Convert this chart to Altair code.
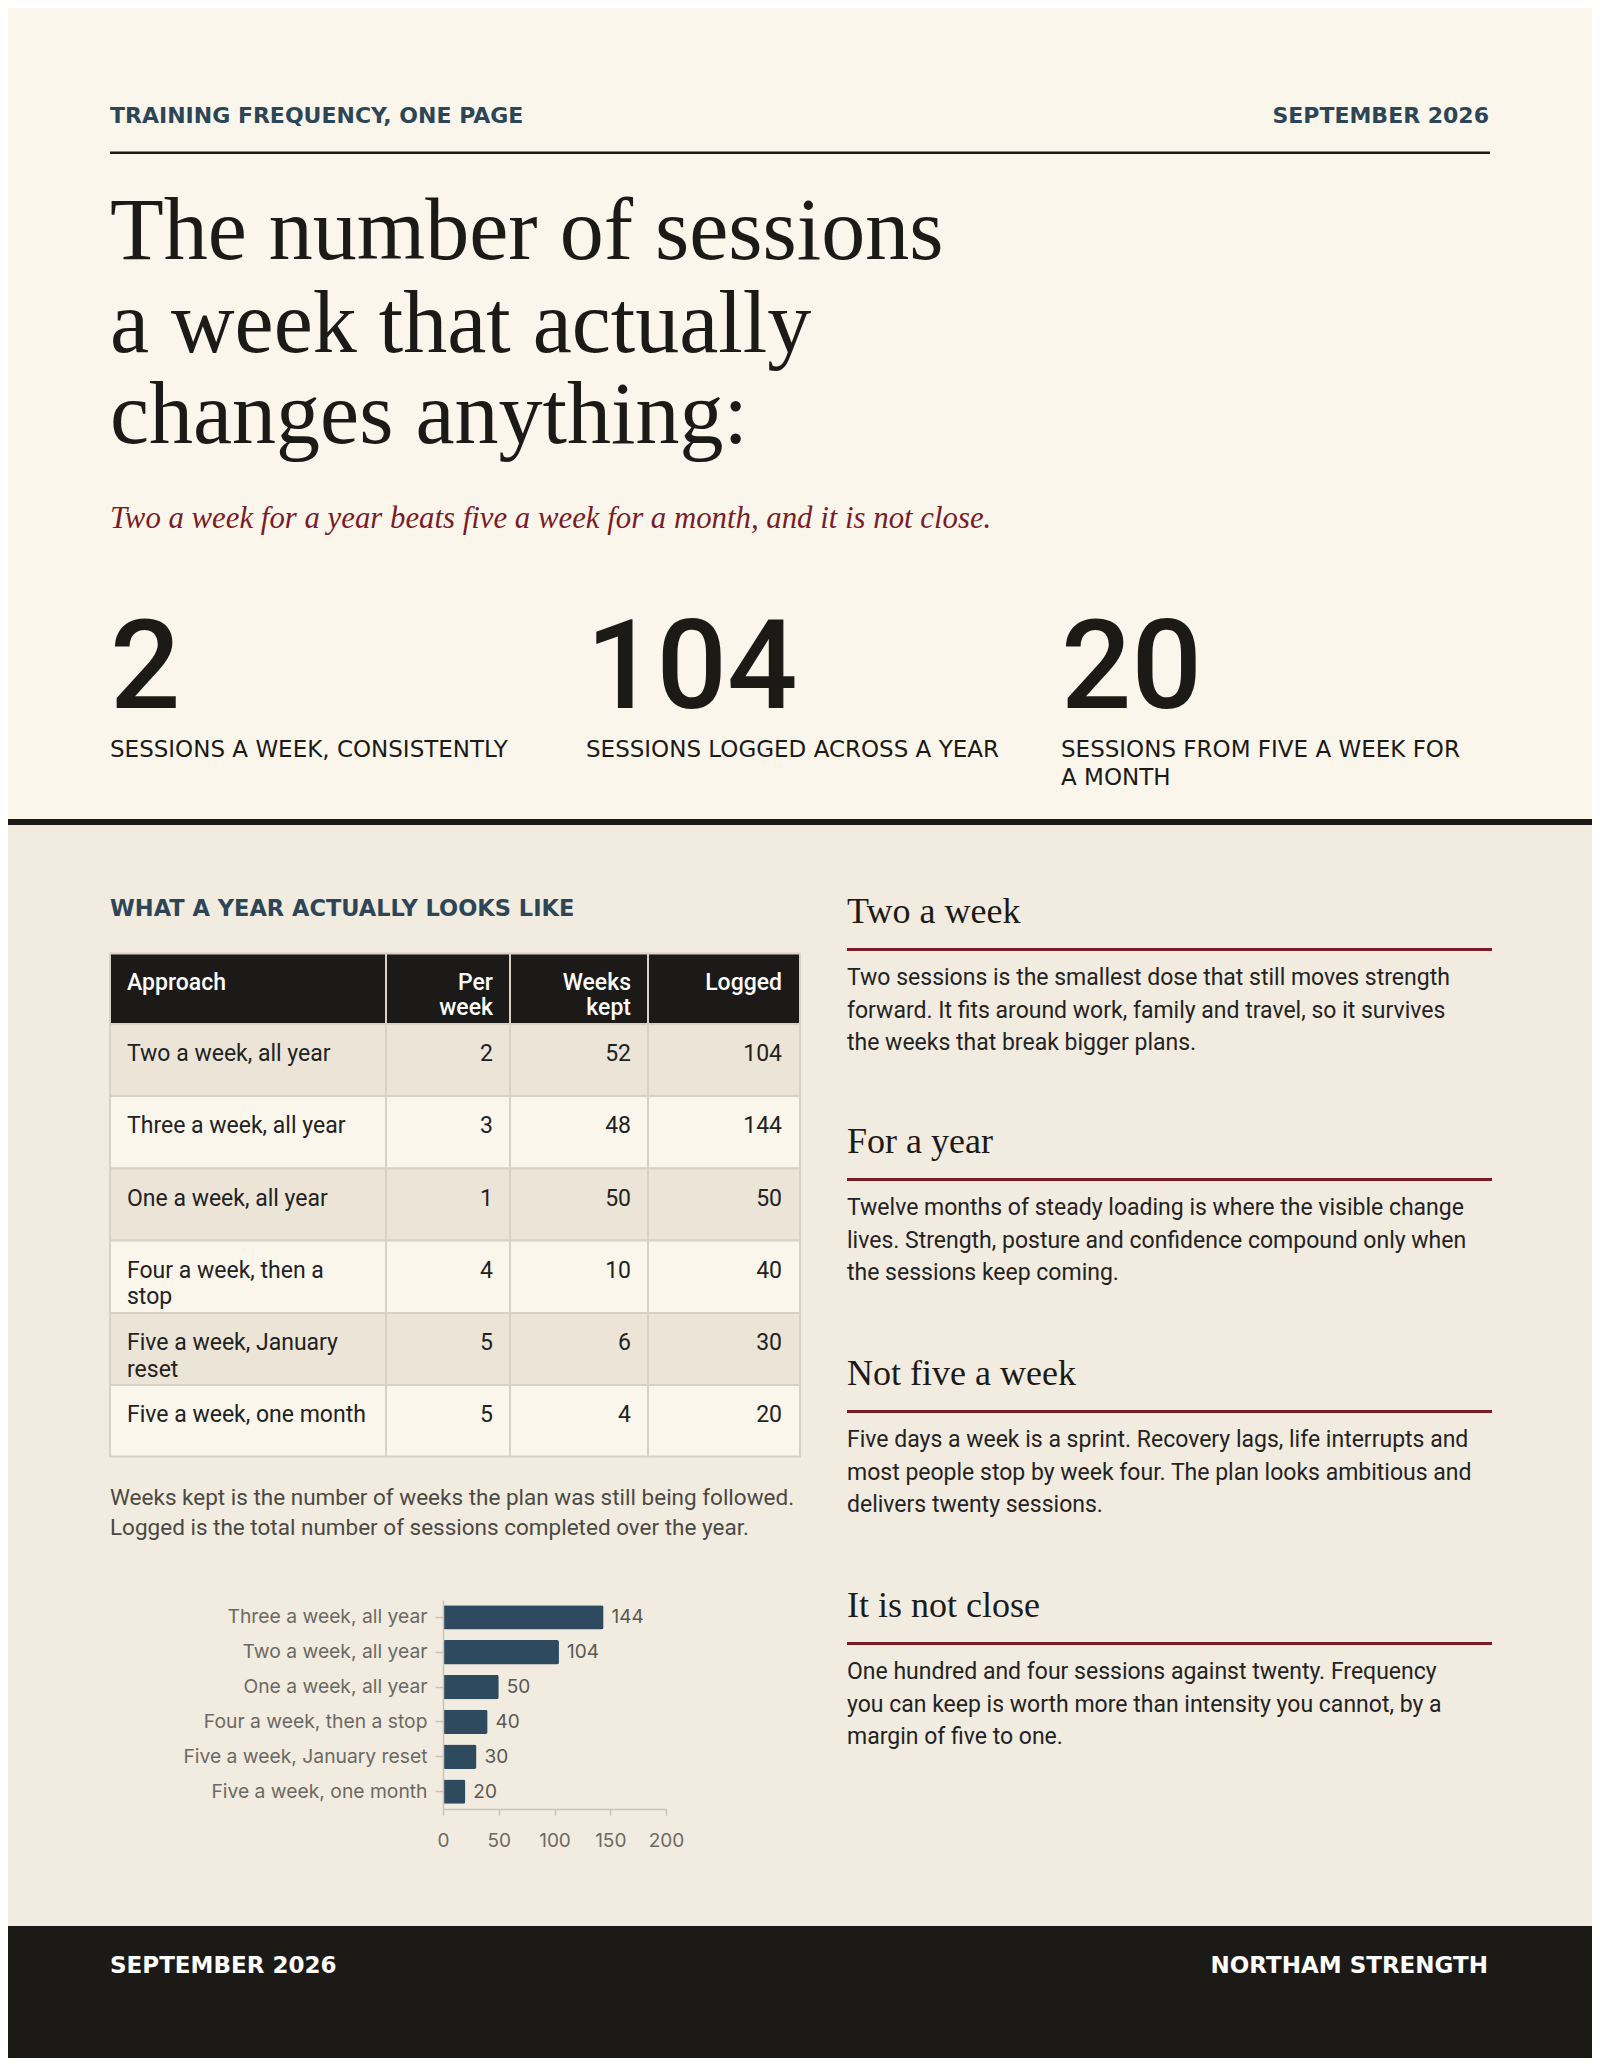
import altair as alt
import pandas as pd

# ---- data -------------------------------------------------------------
APPROACHES = [
    "Two a week, all year",
    "Three a week, all year",
    "One a week, all year",
    "Four a week, then a stop",
    "Five a week, January reset",
    "Five a week, one month",
]
# same rows, wrapped the way they wrap in the narrow table column
APPROACH_CELLS = [
    "Two a week, all year",
    "Three a week, all year",
    "One a week, all year",
    "Four a week, then a\nstop",
    "Five a week, January\nreset",
    "Five a week, one month",
]
PER_WEEK = [2, 3, 1, 4, 5, 5]
WEEKS_KEPT = [52, 48, 50, 10, 6, 4]
LOGGED = [104, 144, 50, 40, 30, 20]
TABLE_HEADERS = ["Approach", "Per\nweek", "Weeks\nkept", "Logged"]
AXIS_TICKS = [0, 50, 100, 150, 200]

STAT_NUMBERS = ["2", "104", "20"]
STAT_LABELS = [
    "SESSIONS A WEEK, CONSISTENTLY",
    "SESSIONS LOGGED ACROSS A YEAR",
    "SESSIONS FROM FIVE A WEEK FOR\nA MONTH",
]

KICKER = "TRAINING FREQUENCY, ONE PAGE"
DATE = "SEPTEMBER 2026"
BRAND = "NORTHAM STRENGTH"
TITLE_LINES = [
    "The number of sessions",
    "a week that actually",
    "changes anything:",
]
SUBTITLE = "Two a week for a year beats five a week for a month, and it is not close."
TABLE_TITLE = "WHAT A YEAR ACTUALLY LOOKS LIKE"
NOTE_LINES = [
    "Weeks kept is the number of weeks the plan was still being followed.",
    "Logged is the total number of sessions completed over the year.",
]
SECTION_HEADS = ["Two a week", "For a year", "Not five a week", "It is not close"]
SECTION_BODIES = [
    ["Two sessions is the smallest dose that still moves strength",
     "forward. It fits around work, family and travel, so it survives",
     "the weeks that break bigger plans."],
    ["Twelve months of steady loading is where the visible change",
     "lives. Strength, posture and confidence compound only when",
     "the sessions keep coming."],
    ["Five days a week is a sprint. Recovery lags, life interrupts and",
     "most people stop by week four. The plan looks ambitious and",
     "delivers twenty sessions."],
    ["One hundred and four sessions against twenty. Frequency",
     "you can keep is worth more than intensity you cannot, by a",
     "margin of five to one."],
]

# ---- page geometry (page pixels) ---------------------------------------
PAGE_W, PAGE_H = 1600, 2071
M = 8  # body margin of the page
W, H = PAGE_W - 2 * M, PAGE_H - 2 * M - 5

CREAM = "#faf6ec"
SAND = "#f2ebdf"
INK = "#1c1a17"
SLATE = "#2d4657"
WINE = "#7a1c28"
GRID = "#d8d1c4"

SERIF = "Liberation Serif"
SANS = "Roboto"
CAPS = "DejaVu Sans"

# decoration layers are placed in page pixels, shifted by the page margin
XS = alt.Scale(domain=[M, M + W], range=[0, W], nice=False, zero=False)
YS = alt.Scale(domain=[M, M + H], range=[0, H], nice=False, zero=False)


def texts(rows, size, color, font=SANS, weight="normal", style="normal",
          align="left", line_height=None):
    mark = dict(font=font, fontSize=size, color=color, fontWeight=weight,
                fontStyle=style, align=align, baseline="alphabetic", lineBreak="\n")
    if line_height:
        mark["lineHeight"] = line_height
    df = pd.DataFrame(rows, columns=["x", "y", "t"])
    return alt.Chart(df).mark_text(**mark).encode(
        x=alt.X("x:Q", scale=XS, axis=None),
        y=alt.Y("y:Q", scale=YS, axis=None),
        text="t:N",
    )


def boxes(rows, **mark):
    df = pd.DataFrame(rows, columns=["x", "x2", "y", "y2", "fill"])
    return alt.Chart(df).mark_rect(**mark).encode(
        x=alt.X("x:Q", scale=XS, axis=None), x2="x2",
        y=alt.Y("y:Q", scale=YS, axis=None), y2="y2",
        fill=alt.Fill("fill:N", scale=None),
    )


layers = []

# backgrounds and heavy rules
layers.append(boxes([
    [0, PAGE_W, 825, 1926, SAND],
    [0, PAGE_W, 819, 825, INK],
    [0, PAGE_W, 1926, PAGE_H, INK],
    [110, 1490, 151.5, 154, INK],
]))

# header strip
layers.append(texts([[110, 123, KICKER]], 22, SLATE, CAPS, "bold"))
layers.append(texts([[1489, 123, DATE]], 22, SLATE, CAPS, "bold", align="right"))

# title + standfirst
layers.append(texts([[110, y, t] for y, t in zip([259, 352, 443], TITLE_LINES)], 88, INK, SERIF))
layers.append(texts([[110, 528, SUBTITLE]], 30.8, WINE, SERIF, style="italic"))

# three stats
STAT_X = [110, 586, 1061]
layers.append(texts([[x, 708, n] for x, n in zip(STAT_X, STAT_NUMBERS)], 124, INK, SANS, 500))
layers.append(texts([[x, 757, t] for x, t in zip(STAT_X, STAT_LABELS)], 23, INK, CAPS,
                    line_height=28))

# ---- table ---------------------------------------------------------------
COL_X = [110, 386, 510, 648, 800]
ROW_Y = [953.5, 1024, 1096, 1168.5, 1240.5, 1313, 1385, 1456.5]
ROW_FILL = ["#ece5d7", "#faf6ec"]

cells = []
for c in range(4):
    cells.append([COL_X[c], COL_X[c + 1], ROW_Y[0], ROW_Y[1], "#1b1a18"])
    for r in range(6):
        cells.append([COL_X[c], COL_X[c + 1], ROW_Y[r + 1], ROW_Y[r + 2], ROW_FILL[r % 2]])
layers.append(boxes(cells, stroke=GRID, strokeWidth=2))

NUM_X = [COL_X[2] - 17, COL_X[3] - 17, COL_X[4] - 18]
layers.append(texts([[127, 990, TABLE_HEADERS[0]]], 23, "#ffffff", SANS, 500))
layers.append(texts([[x, 990, t] for x, t in zip(NUM_X, TABLE_HEADERS[1:])], 23, "#ffffff",
                    SANS, 500, align="right", line_height=25))

row_base = [y + 37 for y in ROW_Y[1:7]]
layers.append(texts([[127, y, t] for y, t in zip(row_base, APPROACH_CELLS)], 23, "#222222",
                    line_height=26.5))
nums = []
for y, a, b, c in zip(row_base, PER_WEEK, WEEKS_KEPT, LOGGED):
    nums += [[NUM_X[0], y, str(a)], [NUM_X[1], y, str(b)], [NUM_X[2], y, str(c)]]
layers.append(texts(nums, 23, "#222222", align="right"))

layers.append(texts([[110, 916, TABLE_TITLE]], 22.5, SLATE, CAPS, "bold"))
layers.append(texts([[110, y, t] for y, t in zip([1505, 1535], NOTE_LINES)], 22.5, "#4a4944"))

# ---- right column ----------------------------------------------------------
HEAD_Y = [923, 1153, 1385, 1617]
layers.append(texts([[847, y, t] for y, t in zip(HEAD_Y, SECTION_HEADS)], 36, INK, SERIF))
layers.append(boxes([[847, 1492, y + 25, y + 28, WINE] for y in HEAD_Y]))
body = []
for y, lines in zip(HEAD_Y, SECTION_BODIES):
    for i, line in enumerate(lines):
        body.append([847, y + 62 + i * 32.7, line])
layers.append(texts(body, 23, "#232323"))

# footer
layers.append(texts([[110, 1973, DATE]], 23, "#ffffff", CAPS, "bold"))
layers.append(texts([[1488, 1973, BRAND]], 23, "#ffffff", CAPS, "bold", align="right"))

# ---- bar chart ---------------------------------------------------------------
AX_X0, AX_X1 = 443, 666     # page x of 0 and 200
AX_Y0, AX_Y1 = 1600, 1809   # page y of the band range
AXIS_COLOR = "#c9c3b7"

bar_df = pd.DataFrame({"approach": APPROACHES, "logged": LOGGED})
bx = alt.X(
    "logged:Q",
    scale=alt.Scale(domain=[0, 200], range=[AX_X0 - M, AX_X1 - M], nice=False),
    axis=alt.Axis(values=AXIS_TICKS, title=None, grid=False, orient="bottom", zindex=1,
                  offset=(AX_Y1 - M) - H, labelFlush=False,
                  domainColor=AXIS_COLOR, domainWidth=1.5, tickColor=AXIS_COLOR, tickWidth=1.5,
                  tickSize=6, labelFont="Inter", labelFontSize=19, labelColor="#6b6963",
                  labelPadding=16),
)
by = alt.Y(
    "approach:N", sort="-x",
    scale=alt.Scale(range=[AX_Y0 - M, AX_Y1 - M], paddingInner=0.3, paddingOuter=0.15),
    axis=alt.Axis(title=None, orient="left", zindex=1, offset=-(AX_X0 - M),
                  domainColor=AXIS_COLOR, domainWidth=1.5, labelLimit=400,
                  tickColor=AXIS_COLOR, tickWidth=1.5, tickSize=8, labelFont="Inter",
                  labelFontSize=19.3, labelColor="#6b6963", labelPadding=8),
)
bar_base = alt.Chart(bar_df).encode(x=bx, y=by)
bars = alt.layer(
    bar_base.mark_bar(color="#2e4a5f", cornerRadius=2),
    bar_base.mark_text(align="left", baseline="middle", dx=8, font="Inter", fontSize=19,
                       color="#5a5852").encode(text="logged:Q"),
)
layers.append(bars)

chart = (
    alt.layer(*layers)
    .resolve_scale(x="independent", y="independent")
    .properties(width=W, height=H, background=CREAM, padding=0,
                autosize=alt.AutoSizeParams(type="none"))
    .configure_view(strokeWidth=0)
)

chart.save("out.html", embed_options={"renderer": "svg", "actions": False})
